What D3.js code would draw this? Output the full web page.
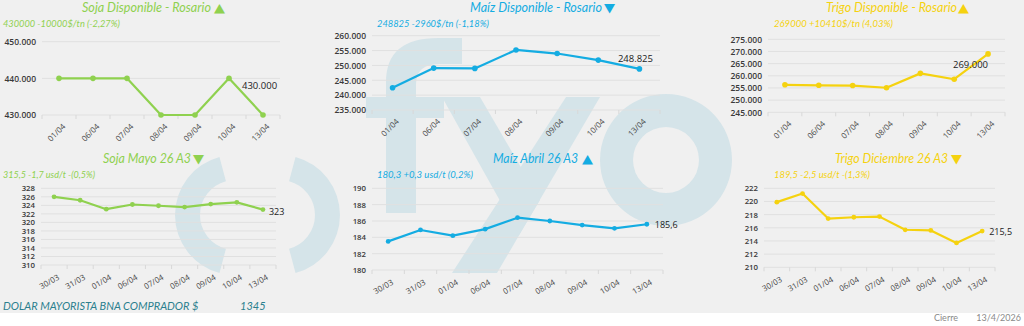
<!DOCTYPE html>
<html><head><meta charset="utf-8">
<script src="https://cdn.jsdelivr.net/npm/d3@7"></script>
<style>
html,body{margin:0;padding:0;background:#fff;}
svg{display:block;}
</style></head>
<body>
<svg id="c" width="1024" height="326"></svg>
<script>
// ---------- DATA ----------
const dispDates = ["01/04","06/04","07/04","08/04","09/04","10/04","13/04"];
const futDates  = ["30/03","31/03","01/04","06/04","07/04","08/04","09/04","10/04","13/04"];

const sojaDisp  = [440000,440000,440000,430000,430000,440000,430000];
const maizDisp  = [242500,249100,249000,255200,254000,251785,248825];
const trigoDisp = [256300,256100,256000,255100,261000,258590,269000];

const sojaMayo  = [326.0,325.2,323.1,324.2,323.9,323.6,324.3,324.7,323.0];
const maizAbril = [183.5,184.9,184.2,185.0,186.4,186.0,185.5,185.1,185.6];
const trigoDic  = [219.9,221.2,217.4,217.6,217.7,215.7,215.6,213.7,215.5];

const sojaDispTicks  = [430000,440000,450000];
const maizDispTicks  = [235000,240000,245000,250000,255000,260000];
const trigoDispTicks = [245000,250000,255000,260000,265000,270000,275000];
const sojaMayoTicks  = [310,312,314,316,318,320,322,324,326,328];
const maizAbrilTicks = [180,182,184,186,188,190];
const trigoDicTicks  = [210,212,214,216,218,220,222];

const titles    = ["Soja Disponible - Rosario","Maíz Disponible - Rosario","Trigo Disponible - Rosario",
                   "Soja Mayo 26 A3","Maíz Abril 26 A3","Trigo Diciembre 26 A3"];
const arrows    = ["▲","▼","▲","▼","▲","▼"];
const subtitles = ["430000 -10000$/tn (-2,27%)","248825 -2960$/tn (-1,18%)","269000 +10410$/tn (4,03%)",
                   "315,5 -1,7 usd/t -(0,5%)","180,3 +0,3 usd/t (0,2%)","189,5 -2,5 usd/t -(1,3%)"];
const lastLabels = ["430.000","248.825","269.000","323","185,6","215,5"];

const footerLeft  = "DOLAR MAYORISTA BNA COMPRADOR $";
const footerValue = "1345";
const footerCierre = "Cierre";
const footerDate  = "13/4/2026";

// ---------- STYLE ----------
const GREEN = "#8fd14f", BLUE = "#14ace2", YELLOW = "#f5d20f";
const WM = "#d5e4e9";
const locale = d3.formatLocale({decimal:",", thousands:".", grouping:[3], currency:["$",""]});
const fmtBig = locale.format(",.0f");
const fmtSmall = d => String(d);

const svg = d3.select("#c");
svg.append("rect").attr("x",0).attr("y",0).attr("width",1024).attr("height",313).attr("fill","#f0f0f0");

// ---------- WATERMARK "( ) fyo" ----------
const wm = svg.append("g").attr("fill", WM);
const arcGen = d3.arc().innerRadius(35).outerRadius(60);
wm.append("path").attr("transform","translate(235,215)")
  .attr("d", arcGen({startAngle: 195*Math.PI/180, endAngle: 345*Math.PI/180}));
wm.append("path").attr("transform","translate(280,215)")
  .attr("d", arcGen({startAngle: 15*Math.PI/180, endAngle: 165*Math.PI/180}));
// f
wm.append("path").attr("d","M386,213 L386,82 Q386,38 438,38 L462,38 L462,64 L440,64 Q416,64 416,84 L416,213 Z");
wm.append("rect").attr("x",366).attr("y",97).attr("width",78).attr("height",21);
// y
wm.append("path").attr("d","M566,97 L600,97 L497,273 L452,273 Z");
wm.append("path").attr("d","M442,97 L480,97 L540,200 L519,235 Z");
// o
wm.append("path").attr("transform","translate(666,160)")
  .attr("d", d3.arc().innerRadius(33).outerRadius(66)({startAngle:0, endAngle:2*Math.PI}));

// ---------- PANELS ----------
const panels = [
  {dates:dispDates, vals:sojaDisp,  ticks:sojaDispTicks,  fmt:fmtBig,   x:[42,280],  y:[115,41.7],  color:GREEN,
   title:[82,211,214,12], sub:[3,120,27], rot:-45, lblDx:-21, lblDy:-26, lblAnchor:"start", big:true},
  {dates:dispDates, vals:maizDisp,  ticks:maizDispTicks,  fmt:fmtBig,   x:[372,660], y:[110,35.7],  color:BLUE,
   title:[470,602,604,12], sub:[377,489,27], rot:-45, lblDx:-4, lblDy:-7, lblAnchor:"middle", big:true},
  {dates:dispDates, vals:trigoDisp, ticks:trigoDispTicks, fmt:fmtBig,   x:[768,1005],y:[112.3,39.3],color:YELLOW,
   title:[826,957,958,12], sub:[774,893,27], rot:-45, lblDx:0, lblDy:14, lblAnchor:"end", big:true},
  {dates:futDates,  vals:sojaMayo,  ticks:sojaMayoTicks,  fmt:fmtSmall, x:[41,276],  y:[265,188.3], color:GREEN,
   title:[103,191,193,163], sub:[3,95,178], rot:-30, lblDx:6, lblDy:5, lblAnchor:"start", big:false},
  {dates:futDates,  vals:maizAbril, ticks:maizAbrilTicks, fmt:fmtSmall, x:[372,663], y:[270,188.3], color:BLUE,
   title:[493,578,582,163], sub:[377,473,178], rot:-30, lblDx:8, lblDy:4, lblAnchor:"start", big:false},
  {dates:futDates,  vals:trigoDic,  ticks:trigoDicTicks,  fmt:fmtSmall, x:[764,995], y:[267.3,188.3],color:YELLOW,
   title:[835,948,951,163], sub:[774,870,178], rot:-30, lblDx:7, lblDy:4, lblAnchor:"start", big:false}
];

panels.forEach((p, i) => {
  const g = svg.append("g");
  const xs = d3.scalePoint().domain(p.dates).range(p.x).padding(0.5);
  const xb = d3.scaleBand().domain(p.dates).range(p.x);
  const ys = d3.scaleLinear().domain(d3.extent(p.ticks)).range(p.y);

  // grid
  g.append("g").selectAll("line").data(p.ticks).join("line")
    .attr("x1", p.x[0]).attr("x2", p.x[1])
    .attr("y1", d => ys(d)).attr("y2", d => ys(d))
    .attr("stroke", "#e0e0e0").attr("stroke-width", 1);

  // y axis
  const yAxis = d3.axisLeft(ys).tickValues(p.ticks).tickFormat(p.fmt).tickSize(0).tickPadding(6);
  const ya = g.append("g").attr("transform", `translate(${p.x[0]},0)`).call(yAxis);
  ya.select(".domain").remove();
  ya.selectAll("text").attr("font-family","'Open Sans'").attr("font-size", p.big ? 8.5 : 7.8)
    .attr("font-weight",600).attr("fill","#3a3a3a");

  // x tick marks at band boundaries
  const y0 = ys.range()[0];
  const edges = p.dates.map(d => xb(d)).concat([p.x[1]]);
  g.append("g").selectAll("line").data(edges).join("line")
    .attr("x1", d => d).attr("x2", d => d).attr("y1", y0).attr("y2", y0 + 4)
    .attr("stroke","#d8d8d8");

  // x labels
  g.append("g").selectAll("text").data(p.dates).join("text")
    .attr("transform", d => `translate(${xs(d) + 3},${y0 + (p.big ? 8 : 9)}) rotate(${p.rot})`)
    .attr("text-anchor","end").attr("dy","0.7em")
    .attr("font-family","'Open Sans'").attr("font-size", 8).attr("fill","#4a4a4a")
    .text(d => d);

  // line
  const line = d3.line().x((d, j) => xs(p.dates[j])).y(d => ys(d));
  g.append("path").datum(p.vals).attr("d", line).attr("fill","none")
    .attr("stroke", p.color).attr("stroke-width", 2.2).attr("stroke-linejoin","round");
  g.append("g").selectAll("circle").data(p.vals).join("circle")
    .attr("cx", (d, j) => xs(p.dates[j])).attr("cy", d => ys(d))
    .attr("r", p.big ? 2.8 : 2.4).attr("fill", p.color);

  // last label
  const n = p.vals.length - 1;
  g.append("text")
    .attr("x", xs(p.dates[n]) + p.lblDx).attr("y", ys(p.vals[n]) + p.lblDy)
    .attr("text-anchor", p.lblAnchor)
    .attr("font-family","'Open Sans'").attr("font-size", p.big ? 9.5 : 9).attr("fill","#222")
    .text(lastLabels[i]);

  // title
  const [tx0, tx1, ax, ty] = p.title;
  g.append("text").attr("x", tx0).attr("y", ty)
    .attr("font-family","Lato").attr("font-style","italic").attr("font-size", 12.5)
    .attr("textLength", tx1 - tx0).attr("lengthAdjust","spacingAndGlyphs")
    .attr("fill", p.color).text(titles[i]);
  g.append("text").attr("x", ax).attr("y", ty)
    .attr("font-family","'DejaVu Sans'").attr("font-size", 12.5)
    .attr("textLength", 11).attr("lengthAdjust","spacingAndGlyphs")
    .attr("fill", p.color).text(arrows[i]);

  // subtitle
  const [sx0, sx1, sy] = p.sub;
  g.append("text").attr("x", sx0).attr("y", sy)
    .attr("font-family","Lato").attr("font-style","italic").attr("font-size", 10.4)
    .attr("textLength", sx1 - sx0).attr("lengthAdjust","spacingAndGlyphs")
    .attr("fill", p.color).text(subtitles[i]);
});

// ---------- FOOTER ----------
svg.append("text").attr("x",3).attr("y",310).attr("font-family","Lato").attr("font-style","italic")
  .attr("font-size",11).attr("fill","#2b7f8e").text(footerLeft);
svg.append("text").attr("x",240).attr("y",310).attr("font-family","Lato").attr("font-style","italic")
  .attr("font-size",11).attr("fill","#2b7f8e").text(footerValue);
svg.append("text").attr("x",958).attr("y",321).attr("text-anchor","end").attr("font-family","Lato")
  .attr("font-size",9).attr("fill","#8a8a8a").text(footerCierre);
svg.append("text").attr("x",1021).attr("y",321).attr("text-anchor","end").attr("font-family","Lato")
  .attr("font-size",9).attr("fill","#8a8a8a").text(footerDate);
</script>
</body></html>
